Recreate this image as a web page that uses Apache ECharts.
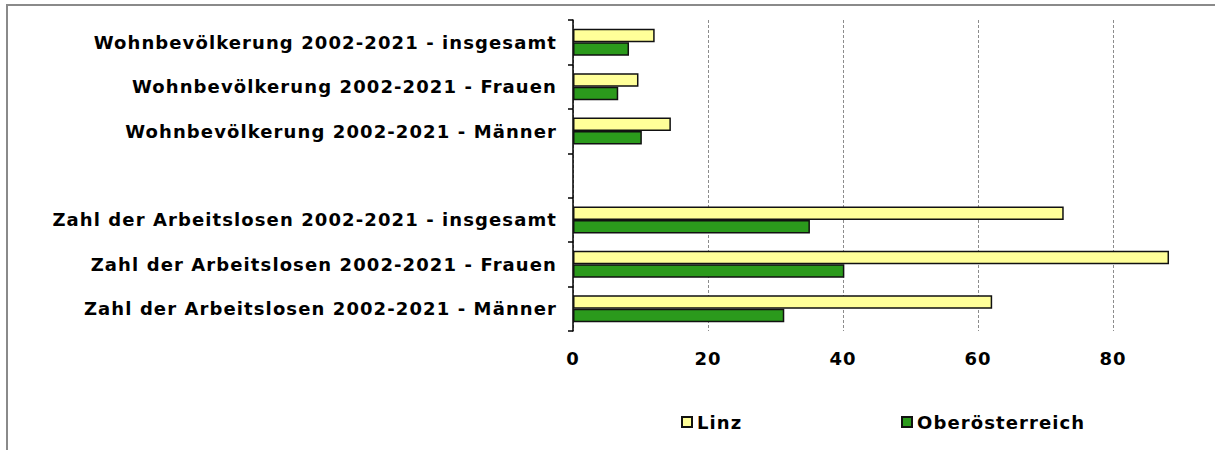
<!DOCTYPE html>
<html>
<head>
<meta charset="utf-8">
<script src="https://cdn.jsdelivr.net/npm/echarts@6/dist/echarts.min.js"></script>
<style>
html,body{margin:0;padding:0;background:#fff;}
#frame{position:absolute;left:6px;top:4px;width:1209px;height:446px;border-top:2px solid #8a8a8a;border-left:2px solid #8a8a8a;box-sizing:border-box;}
#chart{position:absolute;left:0;top:0;width:1215px;height:450px;}
#chart svg text{letter-spacing:1.1px;}
</style>
</head>
<body>
<div id="frame"></div>
<div id="chart"></div>
<script>
const categories = [
  'Wohnbevölkerung 2002-2021 - insgesamt',
  'Wohnbevölkerung 2002-2021 - Frauen',
  'Wohnbevölkerung 2002-2021 - Männer',
  '',
  'Zahl der Arbeitslosen 2002-2021 - insgesamt',
  'Zahl der Arbeitslosen 2002-2021 - Frauen',
  'Zahl der Arbeitslosen 2002-2021 - Männer'
];
const linz = [12.1, 9.7, 14.5, null, 72.7, 88.3, 62.1];
const oberoesterreich = [8.3, 6.7, 10.2, null, 35.1, 40.2, 31.3];
const seriesNames = ['Linz', 'Oberösterreich'];
const xTicks = { min: 0, max: 90, interval: 20 };

const font = 'DejaVu Sans';
const fs = 18;
const chart = echarts.init(document.getElementById('chart'), null, {renderer: 'svg'});
chart.setOption({
  animation: false,
  backgroundColor: 'transparent',
  grid: { left: 573, right: 1215 - 1180.5, top: 20, height: 311, containLabel: false },
  legend: [
    { data: [seriesNames[0]], left: 681, top: 413, padding: 0, icon: 'rect', itemWidth: 10, itemHeight: 10, itemGap: 4,
      textStyle: { fontFamily: font, fontWeight: 'bold', fontSize: fs, color: '#000' } },
    { data: [seriesNames[1]], left: 901, top: 413, padding: 0, icon: 'rect', itemWidth: 10, itemHeight: 10, itemGap: 4,
      textStyle: { fontFamily: font, fontWeight: 'bold', fontSize: fs, color: '#000' } }
  ],
  xAxis: {
    type: 'value', min: xTicks.min, max: xTicks.max, interval: xTicks.interval,
    axisLine: { show: false }, axisTick: { show: false },
    axisLabel: { showMaxLabel: false, margin: 18, fontFamily: font, fontWeight: 'bold', fontSize: fs, color: '#000' },
    splitLine: { show: true, showMaxLine: false, lineStyle: { color: '#8c8c8c', type: [3, 2], width: 1 } }
  },
  yAxis: {
    type: 'category', data: categories, inverse: true,
    axisLine: { show: true, lineStyle: { color: '#000', width: 1.5 } },
    axisTick: { show: true, length: 5, lineStyle: { color: '#000', width: 1.5 } },
    axisLabel: { margin: 16, padding: [7, 0, 0, 0], fontFamily: font, fontWeight: 'bold', fontSize: fs, color: '#000' },
    splitLine: { show: false }
  },
  series: [
    { name: seriesNames[0], type: 'bar', data: linz, barWidth: 13.5, barGap: '0%',
      itemStyle: { color: '#FFFF99', borderColor: '#111', borderWidth: 1.5 } },
    { name: seriesNames[1], type: 'bar', data: oberoesterreich, barWidth: 13.5, barGap: '0%',
      itemStyle: { color: '#2b9a1c', borderColor: '#111', borderWidth: 1.5 } }
  ]
});
</script>
</body>
</html>
